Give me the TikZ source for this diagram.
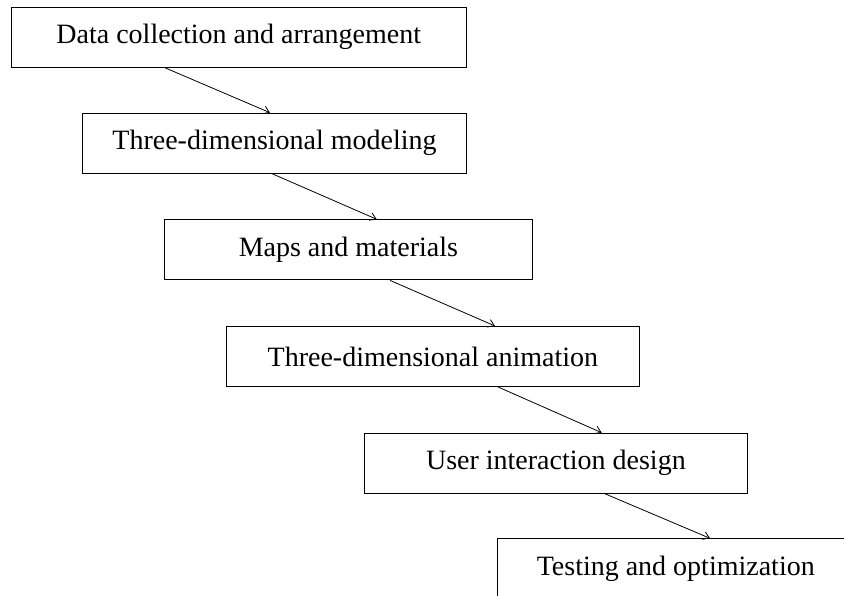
\documentclass[tikz,border=0pt]{standalone}
\usepackage{fontspec}
\setmainfont{Liberation Serif}
\usetikzlibrary{arrows.meta,calc}
\tikzset{
  stepbox/.style={draw=black, line width=1.1pt, inner sep=0pt, font=\fontsize{28}{33}\selectfont, anchor=north west, minimum height=60pt},
  flowarrow/.style={line width=0.8pt, -{Straight Barb[length=6pt,width=8pt,line width=0.8pt]}},
}
\begin{document}
\begin{tikzpicture}[x=1pt,y=1pt]
\useasboundingbox (0,0) rectangle (844,596);
\clip (0,0) rectangle (844,596);
\node[stepbox, minimum width=455pt] (b1) at (10.7,589.3) {Data collection and arrangement};
\node[stepbox, minimum width=383.4pt] (b2) at (82.3,483.3) {Three-dimensional modeling};
\node[stepbox, minimum width=367.7pt] (b3) at (164,376.7) {Maps and materials};
\node[stepbox, minimum width=413.3pt] (b4) at (225.7,270) {Three-dimensional animation};
\node[stepbox, minimum width=382.7pt] (b5) at (364,163.3) {User interaction design};
\node[stepbox, text width=400pt, align=flush left, inner xsep=39.5pt] (b6) at (496.7,57.7) {Testing and optimization};
\draw[flowarrow] ($(b1.south west)+(154.3,0)$) -- ($(b2.north west)+(187.7,0)$);
\draw[flowarrow] ($(b2.south west)+(190,0)$) -- ($(b3.north west)+(212.7,0)$);
\draw[flowarrow] ($(b3.south west)+(226,0)$) -- ($(b4.north west)+(269.3,0)$);
\draw[flowarrow] ($(b4.south west)+(272.6,0)$) -- ($(b5.north west)+(237.7,0)$);
\draw[flowarrow] ($(b5.south west)+(241,0)$) -- ($(b6.north west)+(213.3,0)$);
\end{tikzpicture}
\end{document}
